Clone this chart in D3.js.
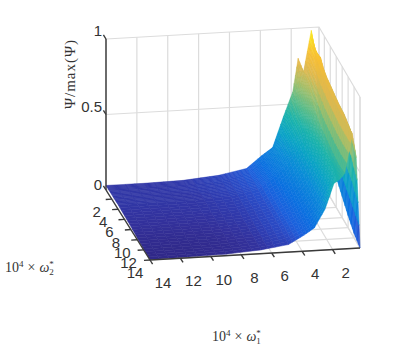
<!DOCTYPE html>
<html><head><meta charset="utf-8">
<script src="https://cdnjs.cloudflare.com/ajax/libs/d3/7.8.5/d3.min.js"></script>
<style>html,body{margin:0;padding:0;background:#fff}svg{display:block}</style></head>
<body><svg id="c" width="399" height="348"></svg>
<script>
const xGrid=[0.2,0.45,0.7,1.2,1.55,1.9,2.5,3.2,3.9,4.9,6.7,9,11.5,14];
const yGrid=[0.2,1,2,3,4,6,8,10,12,14];
const psi0=[.45,.82,.98,.71,.80,.58,.42,.22,.17,.09,.055,.035,.03,.03];
const psi1=[.40,.85,.90,.72,.66,.55,.40,.25,.17,.09,.055,.035,.03,.03];
const psi2=[.35,.86,.85,.68,.60,.50,.37,.25,.16,.09,.05,.035,.03,.03];
const psi3=[.30,.82,.82,.62,.55,.47,.34,.23,.155,.085,.05,.03,.03,.03];
const psi4=[.26,.80,.80,.58,.50,.42,.30,.21,.15,.08,.045,.03,.03,.03];
const psi6=[.20,.78,.78,.54,.45,.38,.27,.19,.13,.075,.04,.028,.025,.025];
const psi8=[.14,.76,.77,.52,.42,.35,.24,.17,.125,.07,.035,.022,.02,.02];
const psi10=[.08,.75,.76,.50,.42,.34,.23,.16,.115,.07,.03,.016,.012,.012];
const psi12=[.03,.72,.76,.49,.42,.34,.23,.15,.11,.065,.025,.01,.006,.006];
const psi14=[0,.60,.76,.50,.46,.44,.27,.15,.105,.05,.025,.01,.005,.003];
const psiRows=[psi0,psi1,psi2,psi3,psi4,psi6,psi8,psi10,psi12,psi14];
const xTicks=[2,4,6,8,10,12,14];
const yTicks=[2,4,6,8,10,12,14];
const zTicks=[0,0.5,1];
const zTickLabels=["0","0.5","1"];
const colorStops=[0,.02,.04,.07,.1,.15,.25,.35,.45,.55,.65,.75,.85,1];
const colorValues=["#2f2785","#33309a","#2f3cb0","#2a4dc8","#1c60dc","#0a6fe0","#0a8ad8","#0aa4c4","#1cb3aa","#5cbc88","#a5bf6a","#e0b84e","#f8c034","#f9fb15"];

const svg=d3.select("#c");
const color=d3.scaleLinear().domain(colorStops).range(colorValues).interpolate(d3.interpolateRgb).clamp(true);
const sx=d3.scaleLinear().domain([14,0.2]).range([0,1]);
const sy=d3.scaleLinear().domain([0.2,14]).range([0,1]);
const sz=d3.scaleLinear().domain([0,1]).range([0,151]);
const A=[106,190],B=[150,260],C=[360,248],D=[319,178];
function proj(x,y,z){
  const u=sx(x),v=sy(y);
  const px=(1-u)*(1-v)*A[0]+(1-u)*v*B[0]+u*v*C[0]+u*(1-v)*D[0];
  const py=(1-u)*(1-v)*A[1]+(1-u)*v*B[1]+u*v*C[1]+u*(1-v)*D[1];
  return [px,py-sz(z)];
}
const line=d3.line();
const root=svg.append("g");
const grid=root.append("g").attr("fill","none").attr("stroke","#dcdcdc").attr("stroke-width",1.2);
const xEnds=[14,0.2],yEnds=[0.2,14];
// back walls and floor
xTicks.concat(xEnds).forEach(x=>{
  grid.append("path").attr("d",line([proj(x,.2,0),proj(x,.2,1)]));
  grid.append("path").attr("d",line([proj(x,.2,0),proj(x,14,0)]));
});
yTicks.concat(yEnds).forEach(y=>{
  grid.append("path").attr("d",line([proj(.2,y,0),proj(.2,y,1)]));
  grid.append("path").attr("d",line([proj(.2,y,0),proj(14,y,0)]));
});
zTicks.forEach(z=>{
  grid.append("path").attr("d",line([proj(14,.2,z),proj(.2,.2,z),proj(.2,14,z)]));
});
// surface, far to near, with interpolated shading
const surf=root.append("g");
const N=4;
yGrid.slice(0,-1).forEach((y0,j)=>{
  const y1=yGrid[j+1];
  for(let m=0;m<N;m++){
    xGrid.slice(0,-1).forEach((x0,i)=>{
      const x1=xGrid[i+1];
      for(let n=0;n<N;n++){
        const f=(a,b)=>{
          const s=(n+a)/N,t=(m+b)/N;
          const z=(1-s)*(1-t)*psiRows[j][i]+s*(1-t)*psiRows[j][i+1]+s*t*psiRows[j+1][i+1]+(1-s)*t*psiRows[j+1][i];
          return {p:proj(x0+s*(x1-x0),y0+t*(y1-y0),z),z};
        };
        const q=[f(0,0),f(1,0),f(1,1),f(0,1)];
        const c=color(d3.mean(q,d=>d.z));
        surf.append("path").attr("d",line(q.map(d=>d.p))+"Z").attr("fill",c).attr("stroke",c).attr("stroke-width",.5);
      }
    });
  }
});
// axes
const ax=root.append("g").attr("fill","none").attr("stroke","#3a3a3a").attr("stroke-width",1.4);
ax.append("path").attr("d",line([proj(14,.2,0),proj(14,.2,1)]));
ax.append("path").attr("d",line([proj(14,.2,0),proj(14,14,0)]));
ax.append("path").attr("d",line([proj(14,14,0),proj(.2,14,0)]));
xTicks.forEach(x=>{const p=proj(x,14,0);ax.append("path").attr("d",line([p,[p[0]+2.6,p[1]+4.2]]));});
yTicks.forEach(y=>{const p=proj(14,y,0);ax.append("path").attr("d",line([p,[p[0]-6,p[1]+.4]]));});
zTicks.forEach(z=>{const p=proj(14,.2,z);ax.append("path").attr("d",line([p,[p[0]-2.6,p[1]-4.2]]));});
// tick labels
const tx=root.append("g").attr("font-family","'Liberation Sans',Arial,sans-serif").attr("font-size",15).attr("fill","#333");
xTicks.forEach(x=>{const p=proj(x,14,0);tx.append("text").attr("x",p[0]+13).attr("y",p[1]+28).attr("text-anchor","middle").text(x);});
yTicks.forEach(y=>{const p=proj(14,y,0);tx.append("text").attr("x",p[0]-15).attr("y",p[1]+18).attr("text-anchor","middle").text(y);});
zTicks.forEach((z,i)=>{const p=proj(14,.2,z);tx.append("text").attr("x",p[0]-4).attr("y",p[1]+(z===0?0:-3)).attr("text-anchor","end").text(zTickLabels[i]);});
// titles
const serif="'Liberation Serif','DejaVu Serif',serif";
svg.append("text").attr("transform","translate(75,74) rotate(-90)").attr("text-anchor","middle")
  .attr("font-family",serif).attr("font-size",15).attr("letter-spacing",1).attr("fill","#333").text("Ψ/max(Ψ)");
function mathLabel(x,y,sub){
  const t=svg.append("text").attr("x",x).attr("y",y).attr("font-family",serif).attr("font-size",14).attr("fill","#333");
  t.append("tspan").text("10");
  t.append("tspan").attr("font-size",9).attr("dy",-5).text("4");
  t.append("tspan").attr("dy",5).attr("dx",4).text("×");
  t.append("tspan").attr("dx",4).attr("font-style","italic").text("ω");
  t.append("tspan").attr("font-size",9).attr("dy",-5).text("*");
  t.append("tspan").attr("font-size",9).attr("dy",8).attr("dx",-4.5).text(sub);
}
mathLabel(5,272,"2");
mathLabel(212,341,"1");
</script></body></html>
